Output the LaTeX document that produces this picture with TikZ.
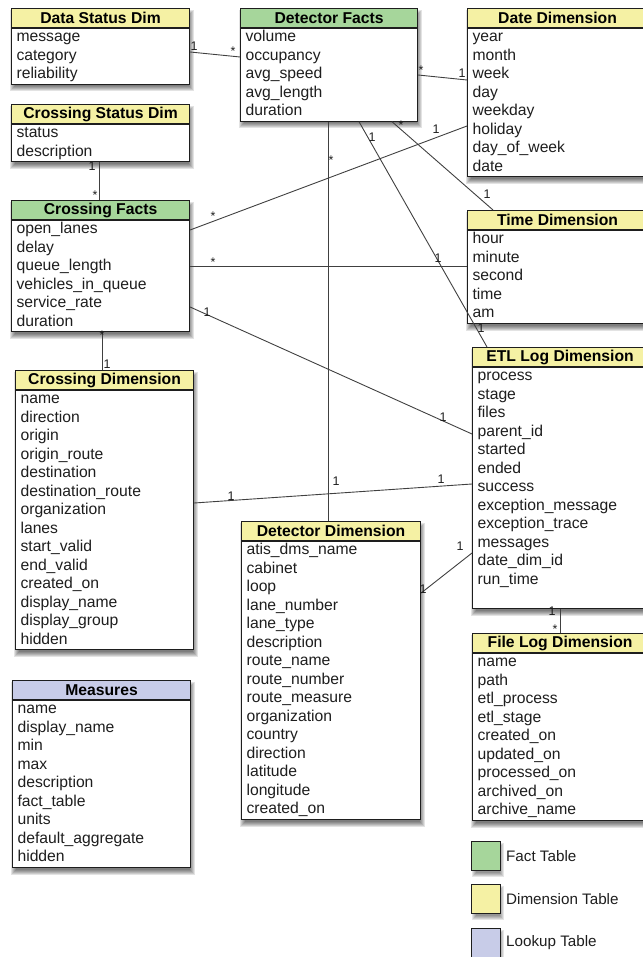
\documentclass[tikz,border=0pt]{standalone}
\usepackage{fontspec}
\setmainfont{Liberation Sans}
\definecolor{factgreen}{HTML}{A6D69B}
\definecolor{dimyellow}{HTML}{F5F1A4}
\definecolor{lookupblue}{HTML}{C8CCE8}
\definecolor{ink}{HTML}{1E1E1E}
\tikzset{
  hdr/.style={draw=ink,line width=1.1pt,inner sep=0pt,minimum height=19pt,
    font=\bfseries\fontsize{15.7}{18.5}\selectfont,text=black},
  tbody/.style={draw=ink,line width=1.1pt,fill=white,inner xsep=5pt,inner ysep=0pt,
    align=left,font=\fontsize{15.7}{18.5}\selectfont,text=ink},
  conn/.style={draw=ink!85,line width=0.9pt},
  mult/.style={inner sep=0pt,font=\fontsize{12.5}{13}\selectfont,text=ink},
  legsq/.style={draw=ink,line width=1.1pt,minimum size=29pt,inner sep=0pt},
  legtxt/.style={anchor=west,inner sep=0pt,font=\fontsize{15.2}{18}\selectfont,text=ink}
}
\newcommand\dbtable[8]{%
  \pgfmathsetmacro\tbh{19+#5*18.5}%
  \pgfmathsetmacro\tbw{#4-10}%
  \foreach \k in {0,...,5}{\fill[black,opacity=0.11] (#2-1+\k,#3+2+\k) rectangle (#2+#4+5-\k,#3+\tbh+9-\k);}%
  \node[hdr,fill=#6,minimum width=#4pt,anchor=north west] (#1h) at (#2,#3) {#7};%
  \node[tbody,text width=\tbw pt,anchor=north west] (#1) at (#1h.south west) {\begin{tabular}{@{}l@{}}#8\end{tabular}};%
}
\newcommand\legshadow[2]{%
  \foreach \k in {0,...,4}{\fill[black,opacity=0.1] (#1-14+\k,#2-13+\k) rectangle (#1+18-\k,#2+21-\k);}%
}
\begin{document}
\begin{tikzpicture}[x=1pt,y=-1pt]
\useasboundingbox (0,0) rectangle (642,957);
% tables
\dbtable{dsd}{11}{8}{178}{3}{dimyellow}{Data Status Dim}{message\\category\\reliability}
\dbtable{df}{240}{8}{177}{5}{factgreen}{Detector Facts}{volume\\occupancy\\avg\_speed\\avg\_length\\duration}
\dbtable{date}{467}{8}{180}{8}{dimyellow}{Date Dimension}{year\\month\\week\\day\\weekday\\holiday\\day\_of\_week\\date}
\dbtable{csd}{11}{104}{178}{2}{dimyellow}{Crossing Status Dim}{status\\description}
\dbtable{cf}{11}{200}{178}{6}{factgreen}{Crossing Facts}{open\_lanes\\delay\\queue\_length\\vehicles\_in\_queue\\service\_rate\\duration}
\dbtable{tm}{467}{210}{180}{5}{dimyellow}{Time Dimension}{hour\\minute\\second\\time\\am}
\dbtable{etl}{472}{347}{175}{13}{dimyellow}{ETL Log Dimension}{process\\stage\\files\\parent\_id\\started\\ended\\success\\exception\_message\\exception\_trace\\messages\\date\_dim\_id\\run\_time\\\mbox{}}
\dbtable{cd}{15}{370}{178}{14}{dimyellow}{Crossing Dimension}{name\\direction\\origin\\origin\_route\\destination\\destination\_route\\organization\\lanes\\start\_valid\\end\_valid\\created\_on\\display\_name\\display\_group\\hidden}
\dbtable{dd}{241}{521}{179}{15}{dimyellow}{Detector Dimension}{atis\_dms\_name\\cabinet\\loop\\lane\_number\\lane\_type\\description\\route\_name\\route\_number\\route\_measure\\organization\\country\\direction\\latitude\\longitude\\created\_on}
\dbtable{fl}{472}{633}{175}{9}{dimyellow}{File Log Dimension}{name\\path\\etl\_process\\etl\_stage\\created\_on\\updated\_on\\processed\_on\\archived\_on\\archive\_name}
\dbtable{meas}{12}{680}{178}{9}{lookupblue}{Measures}{name\\display\_name\\min\\max\\description\\fact\_table\\units\\default\_aggregate\\hidden}
% connectors
\draw[conn] (dsd.east |- 0,52) -- (df.west |- 0,57);
\draw[conn] (df.east |- 0,75) -- (date.west |- 0,80);
\draw[conn] (df.south -| 328,0) -- (ddh.north -| 328,0);
\draw[conn] (df.south -| 359,0) -- (etlh.north -| 487,0);
\draw[conn] (df.south -| 392,0) -- (tmh.north -| 493,0);
\draw[conn] (date.west |- 0,126) -- (cf.east |- 0,230);
\draw[conn] (cf.east |- 0,266) -- (tm.west |- 0,266);
\draw[conn] (cf.east |- 0,307) -- (etl.west |- 0,434);
\draw[conn] (csd.south -| 99,0) -- (cfh.north -| 99,0);
\draw[conn] (cf.south -| 102,0) -- (cdh.north -| 102,0);
\draw[conn] (cd.east |- 0,503) -- (etl.west |- 0,484);
\draw[conn] (dd.east |- 0,593) -- (etl.west |- 0,553);
\draw[conn] (etl.south -| 560,0) -- (flh.north -| 560,0);
% multiplicities
\node[mult] (m1) at (194,46) {1};
\node[mult] (m2) at (233,51) {*};
\node[mult] (m3) at (421,70) {*};
\node[mult] (m4) at (462,73) {1};
\node[mult] (m5) at (331,160) {*};
\node[mult] (m6) at (336,481) {1};
\node[mult] (m7) at (372,137) {1};
\node[mult] (m8) at (481,328) {1};
\node[mult] (m9) at (401,125) {*};
\node[mult] (m10) at (487,194) {1};
\node[mult] (m11) at (436,129) {1};
\node[mult] (m12) at (213,216) {*};
\node[mult] (m13) at (213,262) {*};
\node[mult] (m14) at (438,258) {1};
\node[mult] (m15) at (207,312) {1};
\node[mult] (m16) at (443,417) {1};
\node[mult] (m17) at (92,166) {1};
\node[mult] (m18) at (95,195) {*};
\node[mult] (m19) at (102,335) {*};
\node[mult] (m20) at (107,364) {1};
\node[mult] (m21) at (231,496) {1};
\node[mult] (m22) at (441,479) {1};
\node[mult] (m23) at (423,589) {1};
\node[mult] (m24) at (460,546) {1};
\node[mult] (m25) at (552,611) {1};
\node[mult] (m26) at (555,629) {*};
% legend
\legshadow{486}{856}
\legshadow{486}{899}
\legshadow{486}{943}
\node[legsq,fill=factgreen] (lg1) at (486,856) {};
\node[legsq,fill=dimyellow] (lg2) at (486,899) {};
\node[legsq,fill=lookupblue] (lg3) at (486,943) {};
\node[legtxt] (lt1) at (506,856) {Fact Table};
\node[legtxt] (lt2) at (506,899) {Dimension Table};
\node[legtxt] (lt3) at (506,943) {Lookup Table};
\end{tikzpicture}
\end{document}
